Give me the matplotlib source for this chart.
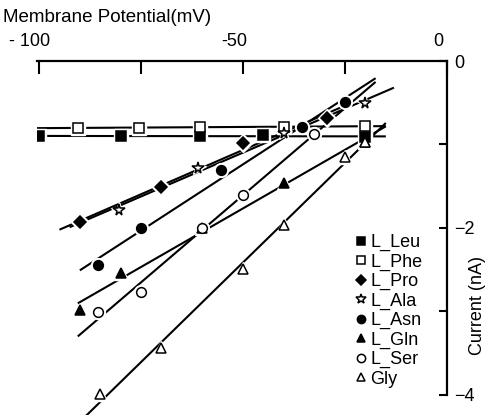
import numpy as np
import matplotlib
matplotlib.use("Agg")
import matplotlib.pyplot as plt
import matplotlib.transforms as mtransforms

plt.rcParams['font.family'] = ['Liberation Sans', 'DejaVu Sans']

# ---- data (membrane potential in mV, current in nA) ----
series_names = ["L_Leu", "L_Phe", "L_Pro", "L_Ala", "L_Asn", "L_Gln", "L_Ser", "Gly"]

leu_v = [-100, -80, -60.5, -45, -20]
leu_i = [-0.90, -0.90, -0.90, -0.89, -0.91]
phe_v = [-90.5, -75.5, -60.5, -40, -20]
phe_i = [-0.80, -0.80, -0.79, -0.79, -0.78]
pro_v = [-90, -70, -50, -29.5]
pro_i = [-1.93, -1.51, -0.98, -0.68]
ala_v = [-80.5, -61, -40, -20]
ala_i = [-1.78, -1.28, -0.86, -0.50]
asn_v = [-85.5, -75, -55.5, -35.5, -25]
asn_i = [-2.44, -2.00, -1.31, -0.79, -0.49]
gln_v = [-90, -80, -60, -40, -20]
gln_i = [-2.98, -2.54, -2.00, -1.46, -0.97]
ser_v = [-85.5, -75, -60, -50, -32.5]
ser_i = [-3.01, -2.77, -2.00, -1.60, -0.87]
gly_v = [-85, -70, -50, -40, -25, -20]
gly_i = [-3.99, -3.44, -2.49, -1.96, -1.15, -0.97]

# voltage range covered by each fitted line
fit_lo = [-100.5, -100.5, -95, -92.5, -90, -90.5, -90.5, -92]
fit_hi = [-15, -15, -25, -13, -17.5, -15, -17.5, -15]

x_ticks = [-100, -75, -50, -25, 0]
x_ticklabels = ["- 100", "", "-50", "", "0"]
y_ticks = [0, -1, -2, -3, -4]
y_ticklabels = ["0", "", "\u22122", "", "\u22124"]

volts = [leu_v, phe_v, pro_v, ala_v, asn_v, gln_v, ser_v, gly_v]
currs = [leu_i, phe_i, pro_i, ala_i, asn_i, gln_i, ser_i, gly_i]

markers = ['s', 's', 'D', '*', 'o', '^', 'o', '^']
faces = ['black', 'white', 'black', 'white', 'black', 'black', 'white', 'white']
msizes = [6.5, 6.5, 6, 8.5, 7, 7, 7, 7]

fig = plt.figure(figsize=(4.88, 4.15), dpi=100)
ax = fig.add_axes([37 / 488, 0.0, 410 / 488, 1 - 61 / 415])
ax.set_xlim(-100.5, 0)
ax.set_ylim(-4.24, 0)

# fitted lines
for v, c, lo, hi in zip(volts, currs, fit_lo, fit_hi):
    k, b = np.polyfit(v, c, 1)
    xs = np.array([lo, hi])
    ax.plot(xs, k * xs + b, color='black', lw=1.5, solid_capstyle='butt', zorder=2)

# white halos to give gaps around markers
for v, c, m, s in zip(volts, currs, markers, msizes):
    ax.plot(v, c, linestyle='none', marker=m, markersize=s + 3,
            markerfacecolor='white', markeredgecolor='white', zorder=3)

handles = []
for v, c, m, f, s, name in zip(volts, currs, markers, faces, msizes, series_names):
    h, = ax.plot(v, c, linestyle='none', marker=m, markersize=s,
                 markerfacecolor=f, markeredgecolor='black', markeredgewidth=1.1,
                 zorder=4, label=name)
    handles.append(h)

# spines
for side in ['left', 'bottom']:
    ax.spines[side].set_visible(False)
ax.spines['top'].set_linewidth(1.6)
ax.spines['right'].set_linewidth(1.6)
ax.spines['right'].set_bounds(-4, 0)

ax.xaxis.tick_top()
ax.set_xticks(x_ticks)
ax.set_xticklabels(x_ticklabels)
ax.tick_params(axis='x', direction='in', length=9, width=1.5, pad=8, labelsize=13)
offset = mtransforms.ScaledTranslation(-9 / 100, 0, fig.dpi_scale_trans)
for lab in ax.get_xticklabels():
    lab.set_transform(lab.get_transform() + offset)

ax.yaxis.tick_right()
ax.set_yticks(y_ticks)
ax.set_yticklabels(y_ticklabels)
ax.tick_params(axis='y', direction='in', length=6, width=1.5, pad=5, labelsize=13)

fig.text(3 / 488, 1 - 17 / 415, "Membrane Potential(mV)", fontsize=13.5,
         ha='left', va='center')
fig.text(477 / 488, 1 - 305 / 415, "Current (nA)", fontsize=13,
         rotation=90, ha='center', va='center')

leg = ax.legend(handles=handles, loc='upper left',
                bbox_to_anchor=(356 / 488, 1 - 234 / 415), bbox_transform=fig.transFigure,
                frameon=False, fontsize=13, handlelength=0.6, handletextpad=0.2,
                labelspacing=0.13, borderpad=0, borderaxespad=0, markerscale=0.85)

fig.savefig("out.png", dpi=100)
